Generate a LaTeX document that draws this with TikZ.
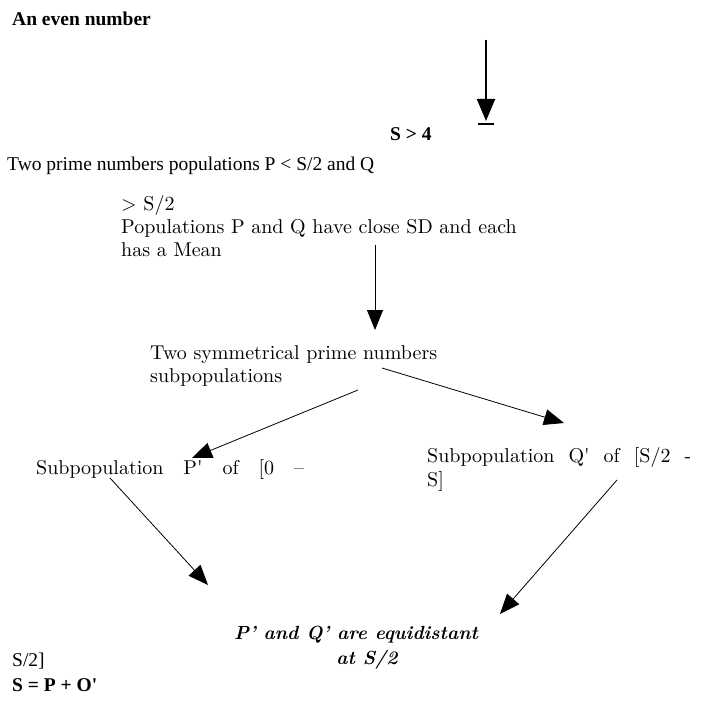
\documentclass[tikz,border=0pt]{standalone}
\usepackage{fontspec}
\newfontfamily\timesfont{Liberation Serif}
\newfontfamily\bookfont{lmroman10-regular.otf}[BoldItalicFont=lmroman10-bolditalic.otf]
\usetikzlibrary{positioning, arrows.meta}

\begin{document}
\begin{tikzpicture}[
    x=1pt, y=-1pt,
    tnr/.style={font=\timesfont\fontsize{19.5}{23}\selectfont, inner sep=0pt, anchor=base west},
    tnrbold/.style={tnr, font=\timesfont\bfseries\fontsize{19.5}{23}\selectfont},
    pal/.style={font=\bookfont\fontsize{20}{23}\selectfont, inner sep=0pt, anchor=base west},
    palbi/.style={pal, anchor=base, font=\bookfont\bfseries\itshape\fontsize{19}{23}\selectfont},
    arrow/.style={-{Triangle[length=20pt, width=16pt]}, line width=0.8pt},
    thickarrow/.style={-{Triangle[length=22pt, width=18pt]}, line width=2pt}
]
\useasboundingbox (0,0) rectangle (725,711);

% texts
\node[tnrbold] (even) at (12, 26) {An even number};
\node[tnrbold] (sfour) at (390, 141) {S > 4};
\node[tnr] (twoprime) at (7, 171) {Two prime numbers populations P < S/2 and Q};
\node[pal] (halfs) at (121, 211) {> S/2};
\node[pal] (closesd) at (121, 234) {Populations P and Q have close SD and each};
\node[pal] (mean) at (121, 257) {has a Mean};
\node[pal] (symm) at (150, 359) {Two symmetrical prime numbers};
\node[pal] (subpops) at (150, 382) {subpopulations};
% justified lines, spaces stretched
\node[pal] (subp) at (36, 474) {\makebox[268pt][s]{Subpopulation P\textquotesingle{} of [0 –}};
\node[pal] (subq) at (427, 462) {\makebox[264pt][s]{Subpopulation Q\textquotesingle{} of [S/2 -}};
\node[pal] (subqend) at (427, 486) {S]};
\node[palbi] (equi) at (356, 639) {P’ and Q’ are equidistant};
\node[palbi] (ats) at (367, 664) {at S/2};
\node[tnr] (subpend) at (12, 666) {S/2]};
\node[tnrbold] (sum) at (12, 691) {S = P + O\textquotesingle};

% arrow ends
\coordinate (a1s) at (486, 40);
\coordinate (a1e) at (486, 121);
\coordinate (barl) at (478, 124);
\coordinate (barr) at (494, 124);
\coordinate (a2s) at (375, 245);
\coordinate (a2e) at (375, 330);
\coordinate (a3s) at (358, 390);
\coordinate (a3e) at (192, 458);
\coordinate (a4s) at (382, 368);
\coordinate (a4e) at (564, 423);
\coordinate (a5s) at (110, 478);
\coordinate (a5e) at (208, 585);
\coordinate (a6s) at (617, 480);
\coordinate (a6e) at (500, 614);

\draw[thickarrow] (a1s) -- (a1e);
\draw[line width=1.5pt] (barl) -- (barr);
\draw[arrow] (a2s) -- (a2e);
\draw[arrow] (a3s) -- (a3e);
\draw[arrow] (a4s) -- (a4e);
\draw[arrow] (a5s) -- (a5e);
\draw[arrow] (a6s) -- (a6e);

\end{tikzpicture}
\end{document}
